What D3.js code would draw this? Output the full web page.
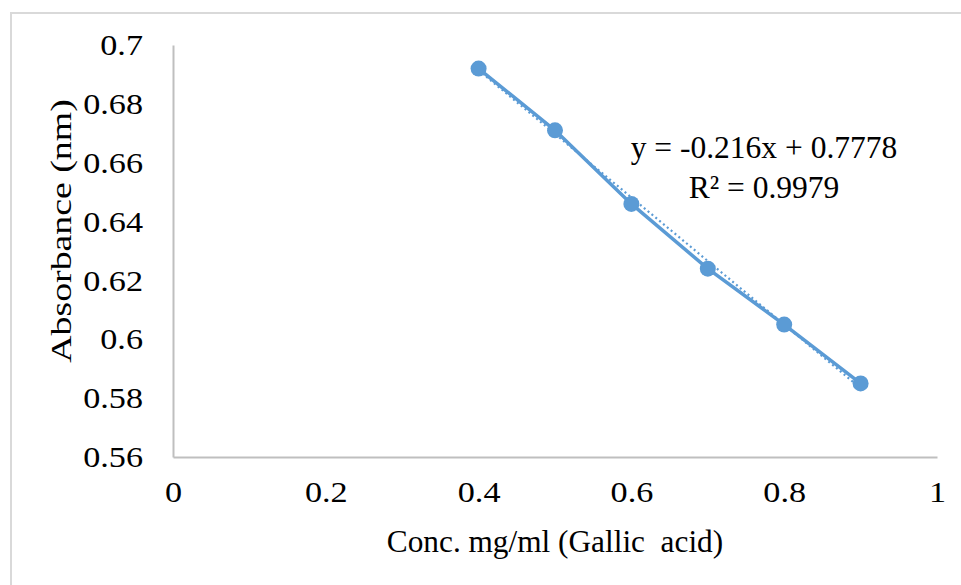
<!DOCTYPE html>
<html>
<head>
<meta charset="utf-8">
<script src="https://cdn.jsdelivr.net/npm/d3@7"></script>
<style>
  html, body { margin: 0; padding: 0; background: #ffffff; }
  svg { display: block; }
</style>
</head>
<body>
<svg id="chart" width="961" height="585"></svg>
<script>
// ---- data ----
const concentration = [0.4, 0.5, 0.6, 0.7, 0.8, 0.9];
const absorbance = [0.692, 0.671, 0.646, 0.624, 0.605, 0.585];
const xTicks = [0, 0.2, 0.4, 0.6, 0.8, 1];
const yTicks = [0.56, 0.58, 0.6, 0.62, 0.64, 0.66, 0.68, 0.7];
const trendSlope = -0.216;
const trendIntercept = 0.7778;
const equationLines = ["y = -0.216x + 0.7778", "R² = 0.9979"];
const xTitle = "Conc. mg/ml (Gallic  acid)";
const yTitle = "Absorbance (nm)";

// ---- layout ----
const FONT = "'Liberation Serif', 'Times New Roman', Times, 'DejaVu Serif', serif";
const svg = d3.select("#chart");
const plotLeft = 173, plotRight = 937, plotTop = 45, plotBottom = 457;
const blue = "#5b9bd5";
const axisGrey = "#bfbfbf";

// widen glyphs along the text direction (reference font is slightly wider than Liberation Serif)
function stretch(sel, factor) {
  sel.each(function () {
    const w = this.getComputedTextLength();
    d3.select(this).attr("textLength", w * factor).attr("lengthAdjust", "spacingAndGlyphs");
  });
}

// chart frame (only top and left edges visible in view)
svg.append("rect")
  .attr("x", 11).attr("y", 13)
  .attr("width", 1000).attr("height", 1000)
  .attr("fill", "none").attr("stroke", "#d9d9d9").attr("stroke-width", 2);

const x = d3.scaleLinear().domain([0, 1]).range([plotLeft, plotRight]);
const y = d3.scaleLinear().domain([0.56, 0.7]).range([plotBottom, plotTop]);

// axes
const xAxis = d3.axisBottom(x).tickValues(xTicks).tickSize(0).tickPadding(24)
  .tickFormat(d => String(+d.toFixed(2)));
const gx = svg.append("g").attr("transform", `translate(0,${plotBottom})`).call(xAxis);
gx.attr("font-family", null);
gx.select(".domain").attr("stroke", axisGrey).attr("stroke-width", 2);
gx.selectAll("text").style("font-family", FONT).style("font-size", "30px").attr("fill", "#000")
  .call(stretch, 1.14);

const yAxis = d3.axisLeft(y).tickValues(yTicks).tickSize(0).tickPadding(30)
  .tickFormat(d => String(+d.toFixed(2)));
const gy = svg.append("g").attr("transform", `translate(${plotLeft},0)`).call(yAxis);
gy.attr("font-family", null);
gy.select(".domain").attr("stroke", axisGrey).attr("stroke-width", 2);
gy.selectAll("text").style("font-family", FONT).style("font-size", "30px").attr("fill", "#000")
  .call(stretch, 1.14);

// trendline (dotted)
const xs = [concentration[0], concentration[concentration.length - 1]];
svg.append("line")
  .attr("x1", x(xs[0])).attr("y1", y(trendSlope * xs[0] + trendIntercept))
  .attr("x2", x(xs[1])).attr("y2", y(trendSlope * xs[1] + trendIntercept))
  .attr("stroke", blue).attr("stroke-width", 2.2)
  .attr("stroke-dasharray", "2,3");

// series line
const pts = concentration.map((c, i) => [c, absorbance[i]]);
svg.append("path")
  .datum(pts)
  .attr("d", d3.line().x(d => x(d[0])).y(d => y(d[1])))
  .attr("fill", "none").attr("stroke", blue).attr("stroke-width", 3.5)
  .attr("stroke-linejoin", "round");

svg.selectAll("circle.pt").data(pts).enter().append("circle")
  .attr("class", "pt")
  .attr("cx", d => x(d[0])).attr("cy", d => y(d[1]))
  .attr("r", 8).attr("fill", blue);

// equation label
const eq = svg.append("text").attr("text-anchor", "middle")
  .style("font-family", FONT).style("font-size", "31.5px");
equationLines.forEach((t, i) => {
  eq.append("tspan").attr("x", 764).attr("y", 158 + i * 40).text(t);
});

// axis titles
svg.append("text").attr("text-anchor", "middle")
  .attr("x", (plotLeft + plotRight) / 2).attr("y", 552)
  .style("font-family", FONT).style("font-size", "31.3px").style("white-space", "pre")
  .text(xTitle);

svg.append("text").attr("text-anchor", "middle")
  .attr("transform", `translate(71,231) rotate(-90)`)
  .style("font-family", FONT).style("font-size", "30px")
  .text(yTitle)
  .call(stretch, 1.26);
</script>
</body>
</html>
